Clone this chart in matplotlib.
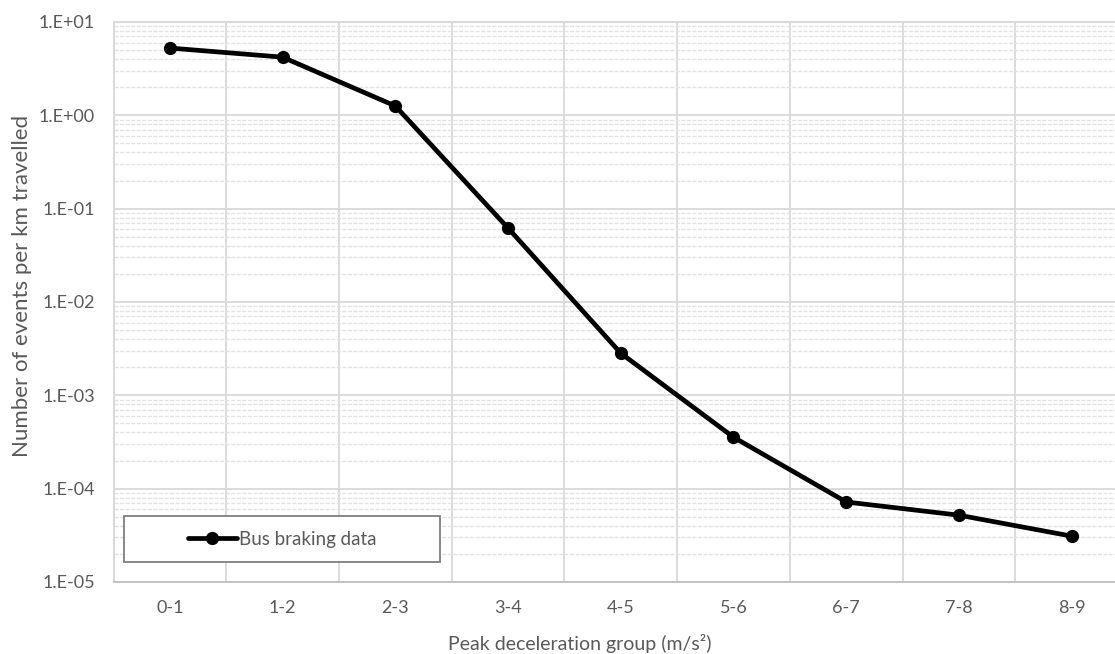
import matplotlib
matplotlib.use("Agg")
import matplotlib.pyplot as plt
from matplotlib.ticker import FuncFormatter, LogLocator, FixedLocator, NullFormatter
from matplotlib.patches import Rectangle
import numpy as np

categories = ["0-1", "1-2", "2-3", "3-4", "4-5", "5-6", "6-7", "7-8", "8-9"]
events_per_km = [5.26, 4.2, 1.26, 0.062, 0.00283, 0.000356, 0.000072, 0.000052, 0.000031]
series_name = "Bus braking data"

plt.rcParams['font.family'] = ['Lato', 'DejaVu Sans']
txt = "#595959"
grid_major = "#d9d9d9"
grid_minor = "#e3e3e3"

fig = plt.figure(figsize=(11.15, 6.54), dpi=100)
ax = fig.add_axes([113.5/1115, 72/654, (1128-113.5)/1115, 560/654])

x = np.arange(len(categories))
ax.plot(x, events_per_km, color="black", lw=3.4, marker="o", ms=8.5, label=series_name,
        solid_capstyle="round", zorder=5)

ax.set_yscale("log")
ax.set_ylim(1e-5, 1e1)
ax.set_xlim(-0.5, len(categories) - 0.5)

ax.yaxis.set_major_locator(LogLocator(base=10, numticks=20))
ax.yaxis.set_minor_locator(LogLocator(base=10, subs=np.arange(2, 10), numticks=20))
ax.yaxis.set_major_formatter(FuncFormatter(lambda v, p: "1.E{:+03d}".format(int(round(np.log10(v))))))
ax.yaxis.set_minor_formatter(NullFormatter())

ax.xaxis.set_major_locator(FixedLocator(np.arange(len(categories) + 1) - 0.5))
ax.xaxis.set_major_formatter(NullFormatter())
ax.xaxis.set_minor_locator(FixedLocator(x))
ax.set_xticks(x, categories, minor=True)

ax.tick_params(axis="both", which="both", length=0, colors=txt, labelsize=13)
ax.tick_params(axis="y", pad=13.3)
ax.tick_params(axis="x", which="minor", pad=13)

ax.grid(True, axis="y", which="major", color=grid_major, lw=1.3, zorder=0)
ax.grid(True, axis="y", which="minor", color=grid_minor, lw=1.0, ls=(0, (3, 1)), zorder=0)
ax.grid(True, axis="x", which="major", color=grid_major, lw=1.3, zorder=0)
ax.set_axisbelow(True)

for s in ax.spines.values():
    s.set_color(grid_major)
    s.set_linewidth(1.3)
ax.spines["bottom"].set_color("#bfbfbf")

ax.set_xlabel("Peak deceleration group (m/s²)", color=txt, fontsize=14)
ax.xaxis.set_label_coords((580 - 113.5) / 1014.5, -0.093)
ax.set_ylabel("Number of events per km travelled", color=txt, fontsize=16)
ax.yaxis.set_label_coords(-0.080, 0.529)

# legend box
bx0 = (124 - 113.5) / 1014.5
bw = 316 / 1014.5
by0 = 20 / 560
bh = 46 / 560
ax.add_patch(Rectangle((bx0, by0), bw, bh, transform=ax.transAxes, facecolor="white",
                       edgecolor="#7f7f7f", lw=1.3, zorder=6))
leg = ax.legend(loc="center", bbox_to_anchor=(bx0 + bw / 2, by0 + bh / 2), frameon=False,
                fontsize=13.5, handlelength=2.6, handletextpad=0.1, labelcolor=txt)
leg.set_zorder(7)

fig.savefig("out.png", dpi=100, facecolor="white")
